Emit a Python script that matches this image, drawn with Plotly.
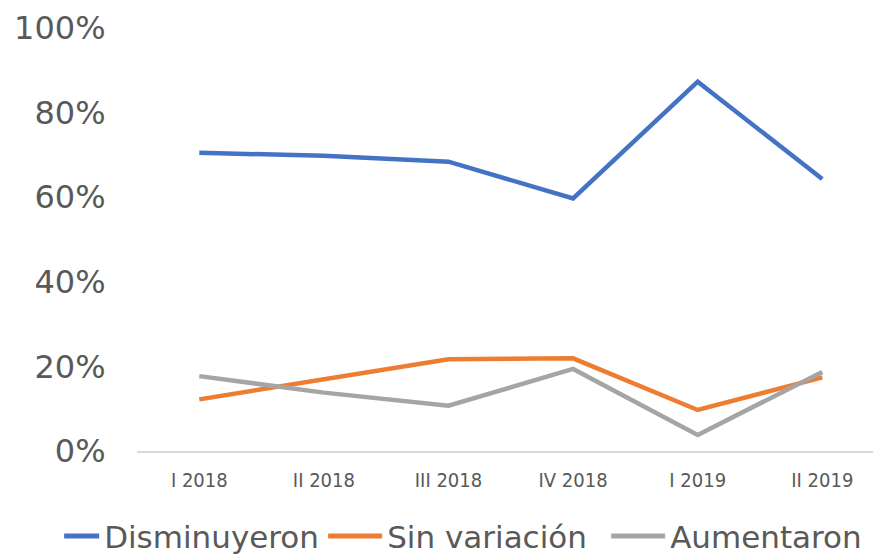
import plotly.graph_objects as go

categories = ["I 2018", "II 2018", "III 2018", "IV 2018", "I 2019", "II 2019"]
disminuyeron = [70.5, 69.8, 68.4, 59.7, 87.3, 64.3]
sin_variacion = [12.2, 16.9, 21.7, 21.9, 9.7, 17.4]
aumentaron = [17.7, 13.8, 10.7, 19.4, 3.8, 18.7]
series_names = ["Disminuyeron", "Sin variación", "Aumentaron"]
colors = ["#4472C4", "#ED7D31", "#A5A5A5"]
y_ticks = [0, 20, 40, 60, 80, 100]
y_tick_labels = ["0%", "20%", "40%", "60%", "80%", "100%"]

fig = go.Figure()
for name, vals, col in zip(series_names, [disminuyeron, sin_variacion, aumentaron], colors):
    fig.add_trace(go.Scatter(
        x=list(range(len(categories))), y=vals, name=name, mode="lines",
        line=dict(color=col, width=4.5),
    ))

fig.update_layout(
    width=873, height=554,
    margin=dict(l=137, r=0, t=28, b=103, autoexpand=False),
    paper_bgcolor="white", plot_bgcolor="white",
    font=dict(family="DejaVu Sans", color="#595959"),
    showlegend=True,
    legend=dict(
        orientation="h", x=-0.099, xanchor="left",
        y=-0.138, yanchor="top",
        font=dict(size=31, family="DejaVu Sans", color="#595959"),
        itemwidth=30, tracegroupgap=0,
        entrywidth=238, entrywidthmode="pixels",
    ),
    xaxis=dict(
        tickmode="array", tickvals=list(range(len(categories))), ticktext=categories,
        range=[-0.5, 5.407], showgrid=False, zeroline=False, automargin=False,
        showline=True, linecolor="#D9D9D9", linewidth=1.5,
        ticks="outside", ticklen=0, ticklabelstandoff=10,
        tickfont=dict(family="DejaVu Sans Condensed", size=20, color="#595959"),
    ),
    yaxis=dict(
        range=[0, 100], tickmode="array", tickvals=y_ticks, ticktext=y_tick_labels,
        showgrid=False, zeroline=False, showline=False, automargin=False,
        ticks="outside", ticklen=0, ticklabelstandoff=24,
        tickfont=dict(family="DejaVu Sans", size=32, color="#595959"),
    ),
)

post = (
    "document.body.style.margin='0';"
    "function longLegendLines(){"
    "document.querySelectorAll('.legend .traces path').forEach(function(p){"
    "var d=p.getAttribute('d')||'';"
    "if(d.indexOf('h30')>=0||d.indexOf('H35')>=0||d.indexOf('L35')>=0){"
    "p.setAttribute('d','M-19,0h54');p.style.strokeWidth='5px';}});}"
    "longLegendLines();"
    "var gdv=document.querySelector('.plotly-graph-div');"
    "if(gdv&&gdv.on){gdv.on('plotly_afterplot',longLegendLines);}"
    "setTimeout(longLegendLines,0);setTimeout(longLegendLines,100);"
)
fig.write_html("out.html", config={"displayModeBar": False}, post_script=post)
